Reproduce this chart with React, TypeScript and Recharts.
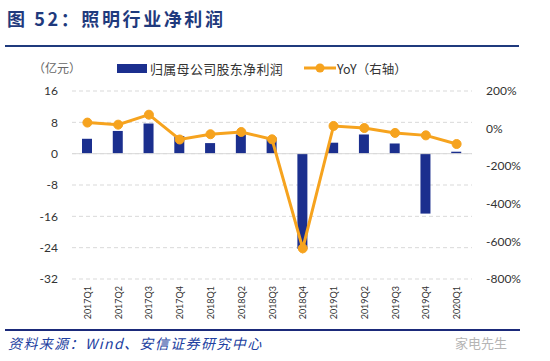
import React from 'react';
import { ComposedChart, Bar, Line, XAxis, YAxis, CartesianGrid, ReferenceLine } from 'recharts';

const quarters = ['2017Q1', '2017Q2', '2017Q3', '2017Q4', '2018Q1', '2018Q2', '2018Q3', '2018Q4', '2019Q1', '2019Q2', '2019Q3', '2019Q4', '2020Q1'];
const netProfit = [3.8, 5.8, 7.7, 4.5, 2.7, 4.9, 4.1, -24.3, 2.8, 4.9, 2.6, -15.3, 0.5];
const yoy = [32, 21, 74, -58, -30, -18, -57, -637, 14, 3, -23, -36, -82];
const leftTicks = [-32, -24, -16, -8, 0, 8, 16];
const rightTicks = [-800, -600, -400, -200, 0, 200];

const data = quarters.map((q, i) => ({ q, profit: netProfit[i], yoy: yoy[i] }));

const NAVY = '#1B2F8E';
const ORANGE = '#F6A31E';
const TITLE_BLUE = '#1F3A7D';
const CJK = '"Noto Sans CJK SC", sans-serif';

const XTick = (props: any) => {
  const { x, y, payload } = props;
  return (
    <text
      x={x}
      y={y}
      transform={`rotate(-90 ${x} ${y})`}
      textAnchor="end"
      dominantBaseline="central"
      fontSize={9}
      fontFamily="Lato, sans-serif"
      fill="#333"
    >
      {payload.value}
    </text>
  );
};

export default function App() {
  return (
    <div style={{ position: 'absolute', left: 0, top: 0, width: 550, height: 361, background: '#fff', overflow: 'hidden', fontFamily: CJK }}>
      <div style={{ position: 'absolute', left: 7, top: 5, fontSize: 18, fontWeight: 700, color: TITLE_BLUE, letterSpacing: 2.6, whiteSpace: 'nowrap' }}>
        图 52：照明行业净利润
      </div>
      <div style={{ position: 'absolute', left: 5, top: 45, width: 514, height: 2, background: TITLE_BLUE }} />

      <div style={{ position: 'absolute', left: 33, top: 59, fontSize: 12, color: '#666', whiteSpace: 'nowrap' }}>（亿元）</div>
      <div style={{ position: 'absolute', left: 117, top: 64, width: 30, height: 9, background: NAVY }} />
      <div style={{ position: 'absolute', left: 150, top: 59, fontSize: 13, color: '#333', whiteSpace: 'nowrap', letterSpacing: 0.3 }}>归属母公司股东净利润</div>
      <svg style={{ position: 'absolute', left: 303, top: 61 }} width={34} height={14}>
        <line x1={1} y1={7} x2={33} y2={7} stroke={ORANGE} strokeWidth={3} />
        <circle cx={17} cy={7} r={4.5} fill={ORANGE} />
      </svg>
      <div style={{ position: 'absolute', left: 337, top: 59, fontSize: 12.5, color: '#333', whiteSpace: 'nowrap' }}>YoY（右轴）</div>

      <div style={{ position: 'absolute', left: 0, top: 0 }}>
        <ComposedChart width={550} height={361} data={data} margin={{ top: 91, right: 0, bottom: 0, left: 0 }}>
          <CartesianGrid yAxisId="left" vertical={false} stroke="#D9D9D9" strokeDasharray="4 3" />
          <XAxis dataKey="q" height={82} axisLine={false} tickLine={false} tickSize={0} tickMargin={7} interval={0} tick={<XTick />} />
          <YAxis
            yAxisId="left"
            width={72}
            domain={[-32, 16]}
            ticks={leftTicks}
            axisLine={false}
            tickLine={false}
            tickSize={0}
            tickMargin={14}
            tick={{ fontSize: 12, fill: '#333', fontFamily: 'Lato, sans-serif' }}
          />
          <YAxis
            yAxisId="right"
            orientation="right"
            width={78}
            domain={[-800, 200]}
            ticks={rightTicks}
            axisLine={false}
            tickLine={false}
            tickSize={0}
            tickMargin={14}
            tickFormatter={(v: number) => `${v}%`}
            tick={{ fontSize: 12, fill: '#333', fontFamily: 'Lato, sans-serif' }}
          />
          <ReferenceLine yAxisId="left" y={0} stroke="#D9D9D9" strokeWidth={1} />
          <Bar yAxisId="left" dataKey="profit" fill={NAVY} barSize={10} isAnimationActive={false} />
          <Line
            yAxisId="right"
            dataKey="yoy"
            stroke={ORANGE}
            strokeWidth={3}
            dot={{ r: 4.5, fill: ORANGE, stroke: ORANGE, strokeWidth: 1 }}
            activeDot={false}
            isAnimationActive={false}
          />
        </ComposedChart>
      </div>

      <div style={{ position: 'absolute', left: 5, top: 329, width: 515, height: 2, background: '#1B2A7A' }} />
      <div style={{ position: 'absolute', left: 8, top: 333, fontSize: 14, fontStyle: 'italic', color: '#2140A0', whiteSpace: 'nowrap', letterSpacing: 1.4 }}>
        资料来源：Wind、安信证券研究中心
      </div>
      <div style={{ position: 'absolute', left: 455, top: 333, fontSize: 13, color: '#B5B5B5', whiteSpace: 'nowrap' }}>家电先生</div>
    </div>
  );
}
